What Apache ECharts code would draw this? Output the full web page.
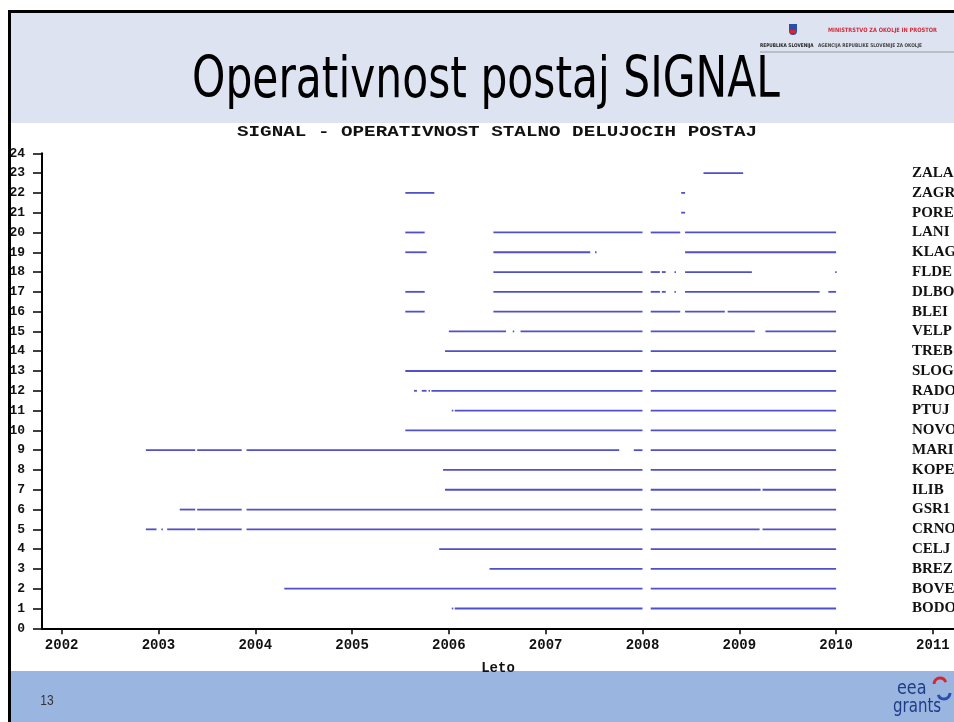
<!DOCTYPE html>
<html>
<head>
<meta charset="utf-8">
<title>Operativnost postaj SIGNAL</title>
<script src="https://cdn.jsdelivr.net/npm/echarts@6/dist/echarts.min.js"></script>
<style>
  html, body { margin: 0; padding: 0; background: #fff; }
  #chart { width: 954px; height: 722px; }
</style>
</head>
<body>
<div id="chart"></div>
<script>
// station codes, from level 1 (bottom) to level 23 (top)
const stations = ['BODO', 'BOVE', 'BREZ', 'CELJ', 'CRNO', 'GSR1', 'ILIB', 'KOPE', 'MARI', 'NOVO', 'PTUJ',
  'RADO', 'SLOG', 'TREB', 'VELP', 'BLEI', 'DLBO', 'FLDE', 'KLAG', 'LANI', 'PORE', 'ZAGR', 'ZALA'];
const years = [2002, 2003, 2004, 2005, 2006, 2007, 2008, 2009, 2010, 2011];

// operating periods of each station, [from, to] in decimal years
const bodo = [[2006.03, 2006.04], [2006.06, 2008.0], [2008.085, 2010.0]];
const bove = [[2004.30, 2008.0], [2008.085, 2010.0]];
const brez = [[2006.42, 2008.0], [2008.085, 2010.0]];
const celj = [[2005.90, 2008.0], [2008.085, 2010.0]];
const crno = [[2002.87, 2002.98], [2003.03, 2003.04], [2003.09, 2003.38], [2003.40, 2003.86], [2003.91, 2008.0], [2008.085, 2009.21], [2009.24, 2010.0]];
const gsr1 = [[2003.22, 2003.38], [2003.40, 2003.86], [2003.91, 2008.0], [2008.085, 2010.0]];
const ilib = [[2005.96, 2008.0], [2008.085, 2009.22], [2009.24, 2010.0]];
const kope = [[2005.94, 2008.0], [2008.085, 2010.0]];
const mari = [[2002.87, 2003.38], [2003.40, 2003.86], [2003.91, 2007.76], [2007.91, 2008.0], [2008.085, 2010.0]];
const novo = [[2005.55, 2008.0], [2008.085, 2010.0]];
const ptuj = [[2006.03, 2006.04], [2006.06, 2008.0], [2008.085, 2010.0]];
const rado = [[2005.64, 2005.67], [2005.72, 2005.77], [2005.79, 2005.80], [2005.82, 2008.0], [2008.085, 2010.0]];
const slog = [[2005.55, 2008.0], [2008.085, 2010.0]];
const treb = [[2005.96, 2008.0], [2008.085, 2010.0]];
const velp = [[2006.0, 2006.59], [2006.66, 2006.67], [2006.74, 2008.0], [2008.085, 2009.16], [2009.27, 2010.0]];
const blei = [[2005.55, 2005.75], [2006.46, 2008.0], [2008.085, 2008.39], [2008.44, 2008.85], [2008.88, 2010.0]];
const dlbo = [[2005.55, 2005.75], [2006.46, 2008.0], [2008.085, 2008.18], [2008.20, 2008.24], [2008.33, 2008.34], [2008.44, 2009.83], [2009.92, 2010.0]];
const flde = [[2006.46, 2008.0], [2008.085, 2008.18], [2008.20, 2008.24], [2008.33, 2008.34], [2008.44, 2009.13], [2009.99, 2010.0]];
const klag = [[2005.55, 2005.77], [2006.46, 2007.46], [2007.51, 2007.52], [2008.44, 2010.0]];
const lani = [[2005.55, 2005.75], [2006.46, 2008.0], [2008.085, 2008.39], [2008.44, 2010.0]];
const pore = [[2008.40, 2008.44]];
const zagr = [[2005.55, 2005.85], [2008.40, 2008.44]];
const zala = [[2008.63, 2009.04]];

const periods = [bodo, bove, brez, celj, crno, gsr1, ilib, kope, mari, novo, ptuj,
  rado, slog, treb, velp, blei, dlbo, flde, klag, lani, pore, zagr, zala];

const mono = '"Liberation Mono", "DejaVu Sans Mono", monospace';
const lineColor = '#5050c8';

// flatten to [from, to, level]
let segData = [];
periods.forEach(function (list, i) {
  list.forEach(function (p) { segData.push([p[0], p[1], i + 1]); });
});

function textWidth(text, font) {
  let ctx = document.createElement('canvas').getContext('2d');
  ctx.font = font;
  return ctx.measureText(text).width;
}

function renderSegment(params, api) {
  let a = api.coord([api.value(0), api.value(2)]);
  let b = api.coord([api.value(1), api.value(2)]);
  return {
    type: 'line',
    shape: { x1: a[0], y1: a[1], x2: Math.max(b[0], a[0] + 1.5), y2: b[1] },
    style: { stroke: lineColor, lineWidth: 1.8 }
  };
}

const titleText = 'Operativnost postaj SIGNAL';
const titleFont = '57px "DejaVu Sans", Verdana, sans-serif';
const chartTitle = 'SIGNAL - OPERATIVNOST STALNO DELUJOCIH POSTAJ';
const chartTitleFont = 'bold 14px ' + mono;

var chart = echarts.init(document.getElementById('chart'), null, { renderer: 'canvas' });

var option = {
  backgroundColor: '#ffffff',
  animation: false,
  grid: { left: 42, right: 0, top: 153.3, bottom: 93.7, outerBoundsMode: 'none', containLabel: false },
  xAxis: {
    type: 'value',
    min: 2001.797,
    max: 2011.218,
    axisLine: { lineStyle: { color: '#000', width: 2 } },
    axisTick: { customValues: years, length: 6, lineStyle: { color: '#000', width: 1.5 } },
    axisLabel: {
      customValues: years,
      formatter: function (v) { return String(Math.round(v)); },
      margin: 10,
      color: '#111',
      fontFamily: mono,
      fontWeight: 'bold',
      fontSize: 14
    },
    splitLine: { show: false },
    name: 'Leto',
    nameLocation: 'middle',
    nameGap: 33,
    nameTextStyle: { color: '#111', fontFamily: mono, fontWeight: 'bold', fontSize: 14 }
  },
  yAxis: [
    {
      type: 'value',
      min: 0,
      max: 24,
      interval: 1,
      position: 'left',
      axisLine: { show: true, lineStyle: { color: '#000', width: 2 } },
      axisTick: { show: true, length: 9, lineStyle: { color: '#000', width: 1.5 } },
      axisLabel: { margin: 17, color: '#111', fontFamily: mono, fontWeight: 'bold', fontSize: 13 },
      splitLine: { show: false }
    },
    {
      // station names on the right
      type: 'value',
      min: 0,
      max: 24,
      interval: 1,
      position: 'right',
      offset: -42,
      axisLine: { show: false },
      axisTick: { show: false },
      splitLine: { show: false },
      axisLabel: {
        margin: 0,
        color: '#111',
        fontFamily: '"Liberation Serif", "DejaVu Serif", serif',
        fontWeight: 'bold',
        fontSize: 15,
        formatter: function (v) { return stations[v - 1] || ''; }
      }
    }
  ],
  series: [
    {
      type: 'custom',
      xAxisIndex: 0,
      yAxisIndex: 0,
      renderItem: renderSegment,
      encode: { x: [0, 1], y: 2 },
      data: segData,
      silent: true
    }
  ],
  graphic: [
    // header band
    { type: 'rect', z: -10, shape: { x: 10, y: 12, width: 944, height: 111 }, style: { fill: '#dde3f1' } },
    // footer band
    { type: 'rect', z: -10, shape: { x: 10, y: 671, width: 944, height: 51 }, style: { fill: '#9bb5e1' } },
    {
      type: 'text', x: 486, y: 82.5,
      scaleX: 588 / textWidth(titleText, titleFont),
      style: { text: titleText, font: titleFont, fill: '#000', textAlign: 'center', textVerticalAlign: 'middle' }
    },
    {
      type: 'text', x: 497, y: 132.5,
      scaleX: 520 / textWidth(chartTitle, chartTitleFont),
      style: { text: chartTitle, font: chartTitleFont, fill: '#111', textAlign: 'center', textVerticalAlign: 'middle' }
    },
    // ministry logo, top right
    { type: 'rect', shape: { x: 789, y: 24, width: 8, height: 11, r: [0, 0, 4, 4] }, style: { fill: '#2b4fa8' } },
    { type: 'rect', shape: { x: 790, y: 30, width: 6, height: 3 }, style: { fill: '#d8262e' } },
    {
      type: 'text', x: 828, y: 30, scaleX: 0.85,
      style: { text: 'MINISTRSTVO ZA OKOLJE IN PROSTOR', font: 'bold 6px "DejaVu Sans"', fill: '#d22a3a', textVerticalAlign: 'middle' }
    },
    {
      type: 'text', x: 760, y: 46, scaleX: 0.85,
      style: { text: 'REPUBLIKA SLOVENIJA', font: 'bold 5px "DejaVu Sans"', fill: '#222', textVerticalAlign: 'middle' }
    },
    {
      type: 'text', x: 818, y: 46, scaleX: 0.85,
      style: { text: 'AGENCIJA REPUBLIKE SLOVENIJE ZA OKOLJE', font: 'bold 5px "DejaVu Sans"', fill: '#444', textVerticalAlign: 'middle' }
    },
    { type: 'line', shape: { x1: 760, y1: 52, x2: 954, y2: 52 }, style: { stroke: '#999', lineWidth: 1 } },
    // page number
    {
      type: 'text', x: 47, y: 701, scaleX: 0.8,
      style: { text: '13', font: '15px "Liberation Sans", Arial, sans-serif', fill: '#333', textAlign: 'center', textVerticalAlign: 'middle' }
    },
    // eea grants logo
    {
      type: 'text', x: 897, y: 689, scaleX: 0.8,
      style: { text: 'eea', font: '20px "DejaVu Sans"', fill: '#1d3c86', textVerticalAlign: 'middle' }
    },
    {
      type: 'text', x: 893, y: 707, scaleX: 0.75,
      style: { text: 'grants', font: '20px "DejaVu Sans"', fill: '#1d3c86', textVerticalAlign: 'middle' }
    },
    { type: 'arc', shape: { cx: 940, cy: 684, r: 6, startAngle: Math.PI, endAngle: Math.PI * 1.9 }, style: { stroke: '#d8262e', lineWidth: 3, fill: null } },
    { type: 'arc', shape: { cx: 944, cy: 693, r: 6, startAngle: 0, endAngle: Math.PI * 0.9 }, style: { stroke: '#2b4fa8', lineWidth: 3, fill: null } },
    // black slide border
    { type: 'rect', z: 100, shape: { x: 8, y: 10, width: 3, height: 712 }, style: { fill: '#000' } },
    { type: 'rect', z: 100, shape: { x: 8, y: 10, width: 946, height: 3 }, style: { fill: '#000' } }
  ]
};

chart.setOption(option);
</script>
</body>
</html>
